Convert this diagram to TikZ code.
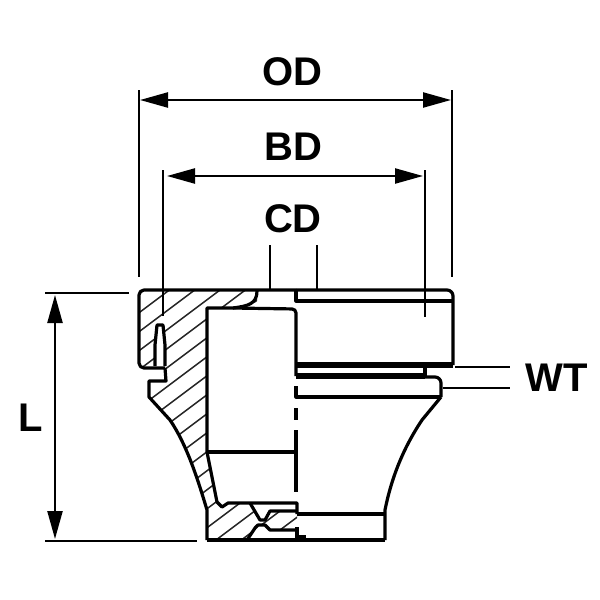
\documentclass[tikz,border=0pt]{standalone}
\usepackage{fontspec}
\setmainfont{Liberation Sans}
\usetikzlibrary{arrows.meta}
\tikzset{
  outline/.style={line width=1.6pt,line join=round},
  heavy/.style={line width=2.6pt},
  thin line/.style={line width=1.15pt},
  dimline/.style={line width=1.15pt,{Triangle[length=14pt,width=7.5pt]}-{Triangle[length=14pt,width=7.5pt]}},
  hatchline/.style={line width=0.75pt,black!85},
  dimlabel/.style={font=\fontsize{20}{20}\selectfont\bfseries,inner sep=0pt}
}
\begin{document}
\begin{tikzpicture}[x=0.5pt,y=-0.5pt]
    \useasboundingbox (0,0) rectangle (600,600);

    % hatching
    \begin{scope}
      \clip (139,290) -- (257,290) -- (257,302) -- (233,308) -- (207,308) -- (207,452) -- (217,502) -- (222,507) -- (228,503)
      -- (250,503) -- (260,520) -- (265,520) -- (270,511) -- (297,511) -- (297,530) -- (270,530) -- (265,525) -- (258,525) -- (255,528) -- (247,540)
      -- (207,540) -- (207,510) .. controls (198,480) and (187,445) .. (170,420) -- (149,397) -- (149,381) -- (166,381) -- (165,368) -- (139,368) -- cycle;
      \foreach \s in {0,1,...,34}
        \draw[hatchline] (100,{323+\s*19}) -- (300,{173+\s*19});
    \end{scope}
    \fill[white] (155,364) -- (155,345) -- (157,325) -- (163,325) -- (165,345) -- (165,364) -- cycle;

    % body outline
    \draw[outline,rounded corners=2.5pt] (296,290) -- (139,290) -- (139,368) -- (165,368);
    \draw[outline] (165,368) -- (166,381) -- (149,381) -- (149,397) -- (170,420)
      .. controls (187,445) and (198,480) .. (207,510) -- (207,540);
    \draw[outline,rounded corners=3pt] (296,290) -- (453,290) -- (453,365);
    \draw[outline] (296,290) -- (296,301) -- (453,301);
    \draw[outline,rounded corners=2pt] (233,308) -- (296,309) -- (296,376);
    \draw[outline] (207,452) -- (207,308) -- (233,308)
      .. controls (248,306) and (257,304) .. (257,291);

    % bands
    \draw[heavy] (296,365) -- (453,365);
    \draw[heavy] (296,376) -- (425,376);
    \draw[outline] (425,365) -- (425,376);
    \draw[outline,rounded corners=3pt] (425,377) -- (441,377) -- (441,397);
    \draw[outline] (296,386) -- (296,397) -- (441,397);
    \draw[outline] (441,397) -- (422,420)
      .. controls (402,450) and (391,480) .. (385,510) -- (385,540);
    \draw[outline,line width=2pt] (207,540) -- (385,540);
    \draw[outline] (297,514) -- (385,514);

    % bore
    \draw[outline] (296,408) -- (296,420);
    \draw[outline] (296,430) -- (296,492);
    \draw[outline] (207,452) -- (296,452);
    \draw[outline] (207,452) -- (217,502) -- (222,507) -- (228,503) -- (297,503) -- (297,514);

    % groove
    \draw[outline] (250,503) -- (260,520) -- (265,520) -- (270,511) -- (297,511);
    \draw[outline] (247,540) -- (255,528) -- (258,525) -- (265,525) -- (270,530) -- (297,530);
    \draw[outline] (297,527) -- (297,540);
    \draw[outline] (297,537) -- (306,537);

    % slot
    \draw[outline] (155,366) -- (155,345) -- (157,325) -- (163,325) -- (165,345) -- (165,366);

    % extension lines
    \draw[thin line] (139,90) -- (139,277);
    \draw[thin line] (452,90) -- (452,277);
    \draw[thin line] (163,170) -- (163,316);
    \draw[thin line] (425,170) -- (425,317);
    \draw[thin line] (270,245) -- (270,290);
    \draw[thin line] (317,245) -- (317,290);
    \draw[thin line] (45,293) -- (129,293);
    \draw[thin line] (45,541) -- (197,541);
    \draw[thin line] (455,367) -- (510,367);
    \draw[thin line] (443,388) -- (510,388);

    % dimensions
    \coordinate (odl) at (140,100);
    \coordinate (odr) at (451,100);
    \coordinate (bdl) at (167,176);
    \coordinate (bdr) at (423,176);
    \coordinate (lt) at (55,295);
    \coordinate (lb) at (55,539);
    \draw[dimline] (odl) -- (odr);
    \draw[dimline] (bdl) -- (bdr);
    \draw[dimline] (lt) -- (lb);

    % labels
    \node[dimlabel] (od) at (292,72) {OD};
    \node[dimlabel] (bd) at (293.5,147) {BD};
    \node[dimlabel] (cd) at (293,219) {CD};
    \node[dimlabel] (l) at (31,418) {L};
    \node[dimlabel] (wt) at (556.5,378) {WT};
\end{tikzpicture}
\end{document}
